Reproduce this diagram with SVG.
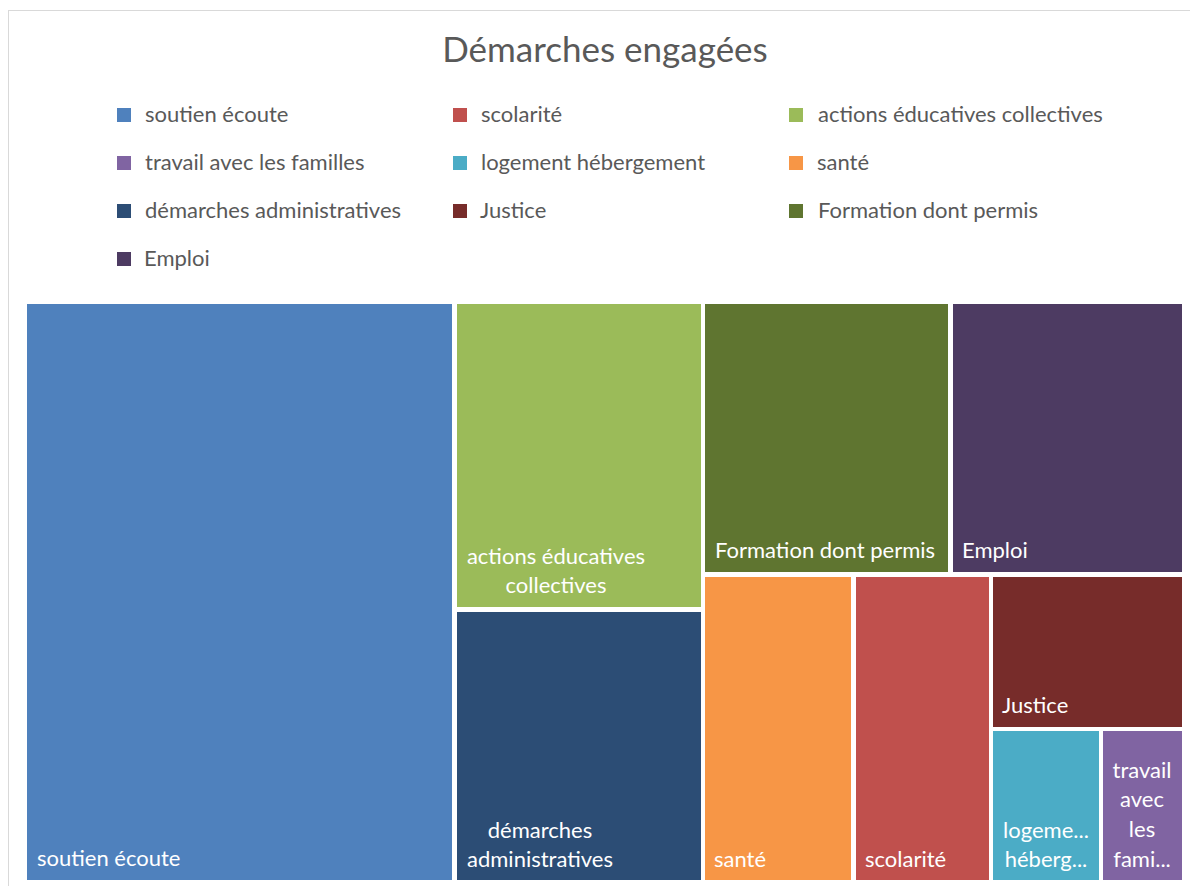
<svg xmlns="http://www.w3.org/2000/svg" width="1190" height="886" viewBox="0 0 1190 886">
<style>
.t{font-family:Lato,"Open Sans","Liberation Sans",sans-serif;font-size:22px;}
.lg{fill:#595959;}
.lb{fill:#ffffff;}
.title{font-family:Lato,"Open Sans","Liberation Sans",sans-serif;font-size:35px;fill:#595959;}
</style>
<rect x="0" y="0" width="1190" height="886" fill="#ffffff"/>
<rect x="8.5" y="10.5" width="1190" height="890" fill="#ffffff" stroke="#d9d9d9" stroke-width="1"/>
<text class="title" x="605" y="62" text-anchor="middle">Démarches engagées</text>
<g id="legend">
<rect x="117" y="108" width="14" height="14" fill="#4F81BD"/><text class="t lg" x="145" y="122">soutien écoute</text>
<rect x="453" y="108" width="14" height="14" fill="#C0504D"/><text class="t lg" x="481" y="122">scolarité</text>
<rect x="789" y="108" width="14" height="14" fill="#9BBB59"/><text class="t lg" x="818" y="122">actions éducatives collectives</text>
<rect x="117" y="156" width="14" height="14" fill="#8064A2"/><text class="t lg" x="145" y="170">travail avec les familles</text>
<rect x="453" y="156" width="14" height="14" fill="#4BACC6"/><text class="t lg" x="481" y="170">logement hébergement</text>
<rect x="789" y="156" width="14" height="14" fill="#F79646"/><text class="t lg" x="817" y="170">santé</text>
<rect x="117" y="204" width="14" height="14" fill="#2C4D75"/><text class="t lg" x="145" y="218">démarches administratives</text>
<rect x="453" y="204" width="14" height="14" fill="#772C2A"/><text class="t lg" x="480" y="218">Justice</text>
<rect x="789" y="204" width="14" height="14" fill="#5F7530"/><text class="t lg" x="818" y="218">Formation dont permis</text>
<rect x="117" y="252" width="14" height="14" fill="#4D3B62"/><text class="t lg" x="144" y="266">Emploi</text>
</g>
<g id="soutien"><rect x="27" y="304" width="425" height="576" fill="#4F81BD"/><text class="t lb" x="37" y="866">soutien écoute</text></g>
<g id="actions"><rect x="457" y="304" width="244" height="303" fill="#9BBB59"/><text class="t lb" text-anchor="middle"><tspan x="556" y="564">actions éducatives</tspan><tspan x="556" y="593">collectives</tspan></text></g>
<g id="demarches"><rect x="457" y="612" width="244" height="268" fill="#2C4D75"/><text class="t lb" text-anchor="middle"><tspan x="540" y="838">démarches</tspan><tspan x="540" y="867">administratives</tspan></text></g>
<g id="formation"><rect x="705" y="304" width="243" height="268" fill="#5F7530"/><text class="t lb" x="715" y="558">Formation dont permis</text></g>
<g id="emploi"><rect x="953" y="304" width="229" height="268" fill="#4D3B62"/><text class="t lb" x="962" y="558">Emploi</text></g>
<g id="sante"><rect x="705" y="577" width="146" height="303" fill="#F79646"/><text class="t lb" x="714" y="867">santé</text></g>
<g id="scolarite"><rect x="856" y="577" width="133" height="303" fill="#C0504D"/><text class="t lb" x="865" y="867">scolarité</text></g>
<g id="justice"><rect x="993" y="577" width="189" height="150" fill="#772C2A"/><text class="t lb" x="1002" y="713">Justice</text></g>
<g id="logement"><rect x="993" y="731" width="106" height="149" fill="#4BACC6"/><text class="t lb" text-anchor="middle"><tspan x="1046" y="838">logeme...</tspan><tspan x="1046" y="867">héberg...</tspan></text></g>
<g id="travail"><rect x="1103" y="731" width="79" height="149" fill="#8064A2"/><text class="t lb" text-anchor="middle"><tspan x="1142" y="778">travail</tspan><tspan x="1142" y="807">avec</tspan><tspan x="1142" y="837">les</tspan><tspan x="1142" y="867">fami...</tspan></text></g>
<g id="connectors"/>
</svg>
